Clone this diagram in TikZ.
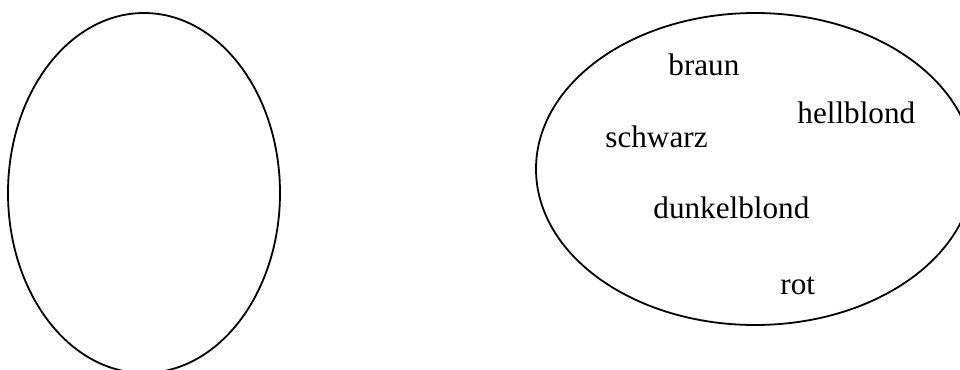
\documentclass[tikz,border=0pt]{standalone}
\usepackage{fontspec}
\setmainfont{Liberation Serif}
\begin{document}
\begin{tikzpicture}[x=0.5pt,y=-0.5pt,
  setline/.style={draw=black,line width=0.9pt},
  elem/.style={inner sep=0pt,anchor=base west,font=\fontsize{15.6pt}{18pt}\selectfont}]
  \useasboundingbox (0,0) rectangle (960,370);
  \clip (0,0) rectangle (960,370);
  % empty set on the left
  \draw[setline] (144,193) ellipse [x radius=68pt, y radius=90pt];
  % set of hair colours on the right
  \draw[setline] (755,169) ellipse [x radius=109.5pt, y radius=78pt];
  \node[elem] (braun) at (668,75) {braun};
  \node[elem] (hellblond) at (797,123) {hellblond};
  \node[elem] (schwarz) at (605,147) {schwarz};
  \node[elem] (dunkelblond) at (653,218) {dunkelblond};
  \node[elem] (rot) at (780,294) {rot};
\end{tikzpicture}
\end{document}
